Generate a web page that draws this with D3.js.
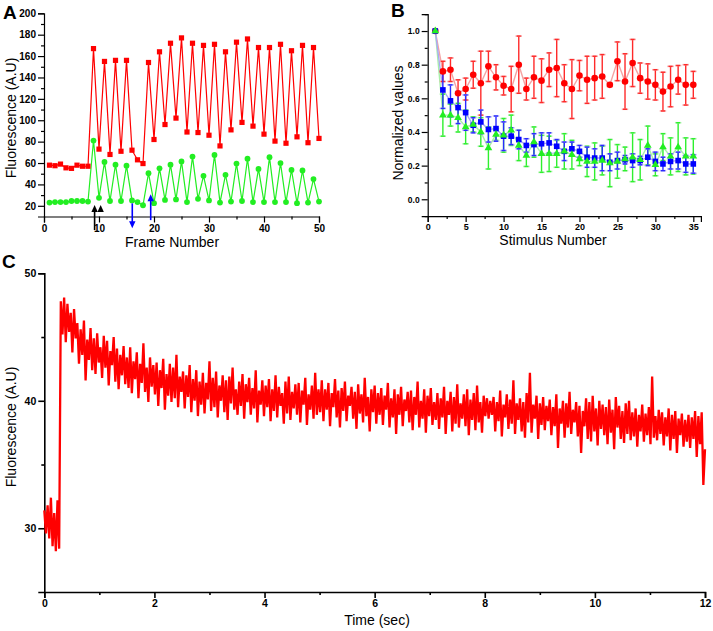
<!DOCTYPE html>
<html>
<head>
<meta charset="utf-8">
<script src="https://cdn.jsdelivr.net/npm/d3@7"></script>
<style>
  body { margin: 0; background: #fff; }
  text { font-family: Arial, "Liberation Sans", sans-serif; }
  .tk text { font-weight: bold; fill: #000; }
</style>
</head>
<body>
<div id="cContainer"></div>
<script>
// ---- panel A : raw fluorescence per frame ----
var framesA = d3.range(1, 51);
var redA = [58, 57.5, 59, 55.5, 55, 58, 57, 57, 167, 73,
            155, 68, 156, 71, 156, 72, 63, 59.5, 154, 82,
            164, 96, 172, 102, 177, 89, 172, 88.5, 170, 86,
            171, 76, 164, 91, 173, 98, 176, 94.5, 168, 87,
            168, 80.5, 171, 78.5, 165, 84.5, 170, 79, 168, 83];
var greenA = [23, 23.5, 23.5, 23.5, 24.5, 24.5, 24.5, 24, 81, 27.5,
              61, 24.5, 58.5, 24.5, 57.5, 25, 23.5, 20.5, 50.5, 22.5,
              55, 25.5, 58.5, 26, 61.5, 23.5, 66, 26.5, 48, 25,
              67.5, 23, 49, 24, 59.5, 24.5, 64, 23.5, 54.5, 23.5,
              65.5, 23.5, 60, 23.5, 53.5, 22.5, 53, 23, 45, 24];
// arrows (frame, start value, tip value), from = null -> head only
var arrowFrames = [9.2, 10.3, 16.05, 19.4];
var arrowFrom = [-2.7, null, 22.3, 6.6];
var arrowTo = [20.7, 20.7, -1.1, 30.7];
var arrowColors = ["#000", "#000", "#0000ff", "#0000ff"];

// ---- panel B : normalized values per stimulus ----
var stimB = d3.range(1, 36);
var redB = [1.0, 0.76, 0.77, 0.63, 0.655, 0.74, 0.69, 0.79, 0.725, 0.675,
            0.655, 0.80, 0.655, 0.725, 0.705, 0.77, 0.78, 0.69, 0.655, 0.735,
            0.71, 0.72, 0.73, 0.68, 0.82, 0.70, 0.81, 0.72, 0.70, 0.68,
            0.64, 0.67, 0.71, 0.68, 0.68];
var redErrB = [0, 0.06, 0.07, 0.08, 0.065, 0.08, 0.19, 0.09, 0.075, 0.055,
               0.135, 0.17, 0.065, 0.125, 0.13, 0.10, 0.17, 0.11, 0.175, 0.09,
               0.14, 0.13, 0.13, 0.01, 0.115, 0.165, 0.14, 0.09, 0.105, 0.09,
               0.115, 0.12, 0.085, 0.12, 0.08];
var blueB = [1.0, 0.65, 0.585, 0.545, 0.515, 0.44, 0.46, 0.415, 0.42, 0.375,
             0.375, 0.355, 0.32, 0.325, 0.33, 0.335, 0.315, 0.285, 0.30, 0.285,
             0.25, 0.245, 0.245, 0.22, 0.23, 0.235, 0.23, 0.23, 0.25, 0.225,
             0.21, 0.225, 0.23, 0.21, 0.21];
var blueErrB = [0, 0.11, 0.095, 0.095, 0.105, 0.045, 0.07, 0.075, 0.075, 0.085,
                0.05, 0.055, 0.04, 0.065, 0.065, 0.06, 0.04, 0.055, 0.04, 0.035,
                0.06, 0.055, 0.075, 0.05, 0.05, 0.025, 0.04, 0.025, 0.05, 0.055,
                0.04, 0.045, 0.05, 0.05, 0.055];
var greenB = [1.0, 0.50, 0.50, 0.485, 0.43, 0.445, 0.40, 0.305, 0.385, 0.38,
              0.41, 0.32, 0.26, 0.34, 0.27, 0.27, 0.27, 0.285, 0.265, 0.24,
              0.225, 0.225, 0.23, 0.215, 0.225, 0.24, 0.25, 0.235, 0.32, 0.205,
              0.31, 0.255, 0.31, 0.255, 0.255];
var greenErrB = [0, 0.125, 0.065, 0.085, 0.10, 0.045, 0.085, 0.125, 0.035, 0.10,
                 0.09, 0.09, 0.065, 0.09, 0.11, 0.105, 0.08, 0.105, 0.085, 0.04,
                 0.09, 0.11, 0.085, 0.14, 0.10, 0.07, 0.145, 0.12, 0.115, 0.065,
                 0.08, 0.11, 0.145, 0.11, 0.105];

// ---- panel C : fluorescence trace, one sample every 0.03 s ----
var dtC = 0.03;
var traceC = [
 31.4, 29.6, 31.8, 29.2, 32.4, 28.6, 31.2, 28.2, 32.2, 28.4,
 47.8,
 45.2, 48.1, 44.6, 47.6, 45.4, 46.9, 43.8, 47.2, 44.9,
 46.1, 42.9, 45.6, 43.6, 46.3, 41.6, 44.8, 43.2, 45.7, 42.4, 44.9, 42.1, 45.3, 43.0,
 44.2, 41.8, 45.1, 42.6, 44.7, 41.2, 43.9, 42.8, 45.0, 41.5, 44.1, 40.9, 43.6, 42.0, 44.3, 41.3, 43.4,
 41.0, 44.2, 40.6, 43.1, 41.7, 43.8, 40.2, 42.9, 41.4, 44.5, 40.7, 42.6, 39.9, 43.4, 41.1, 42.8, 40.5,
 43.0, 39.6, 42.4, 41.0, 43.3, 39.3, 42.1, 40.4, 42.9, 39.9, 42.6, 40.2, 43.6, 39.5, 41.9, 40.7, 42.3,
 39.4, 42.0, 40.3, 42.8, 39.1, 41.7, 40.0, 42.4, 38.8, 41.5, 39.7, 42.2, 39.0, 41.4, 40.1, 43.1, 39.2,
 41.8, 39.5, 42.3, 38.7, 41.2, 40.0, 42.0, 39.1, 41.6, 38.5, 41.9, 39.8, 42.6, 39.3, 40.9, 38.9, 41.5,
 39.6, 42.1, 38.6, 41.3, 39.9, 41.8, 38.9, 41.0, 39.4, 42.4, 38.3, 40.8, 39.7, 41.6, 38.8, 41.2, 39.5,
 41.7, 38.4, 40.9, 39.2, 42.0, 38.7, 41.1, 39.6, 40.6, 38.2, 41.5, 39.0, 41.9, 38.5, 40.7, 39.4, 41.3,
 38.9, 41.4, 38.3, 40.8, 39.7, 41.8, 38.1, 40.5, 39.3, 41.2, 38.6, 42.2, 38.9, 40.9, 39.1, 41.6, 38.4,
 40.9, 39.3, 41.4, 38.0, 40.6, 39.5, 41.7, 38.7, 40.8, 37.9, 41.0, 39.2, 41.5, 38.4, 40.4, 39.6, 41.1,
 38.6, 40.7, 37.8, 41.3, 39.0, 40.5, 38.3, 41.8, 38.8, 40.3, 37.6, 40.9, 39.1, 41.2, 38.2, 40.6, 38.9,
 41.0, 38.1, 40.4, 39.3, 41.4, 37.9, 40.2, 38.7, 40.9, 37.4, 40.5, 38.9, 41.1, 38.0, 40.1, 39.2, 40.7,
 38.3, 40.8, 37.7, 40.3, 38.9, 41.5, 37.9, 40.0, 38.6, 40.9, 37.5, 40.4, 38.8, 41.0, 38.1, 39.9, 38.5,
 40.6, 37.8, 40.2, 38.7, 41.1, 37.4, 40.0, 38.9, 40.7, 37.6, 40.3, 38.2, 41.3, 37.9, 39.8, 38.6, 40.5,
 38.0, 40.9, 37.3, 40.1, 38.5, 40.6, 37.7, 41.2, 38.3, 39.9, 37.5, 40.4, 38.8, 40.2, 38.6, 40.0, 38.9,
 40.3, 37.6, 39.9, 38.4, 40.8, 37.2, 39.7, 38.7, 40.5, 37.8, 40.1, 38.2, 41.6, 37.4, 39.8, 38.5, 40.2,
 37.6, 39.9, 37.1, 40.6, 38.3, 42.2, 37.5, 39.7, 38.6, 40.4, 37.0, 39.8, 38.1, 40.3, 37.7, 39.6, 38.4,
 40.1, 37.3, 39.5, 38.0, 40.5, 36.3, 39.4, 38.2, 40.0, 37.1, 39.8, 37.9, 40.7, 37.4, 39.3, 38.3, 39.9,
 37.2, 39.6, 35.9, 39.2, 38.0, 40.2, 37.0, 39.9, 36.8, 40.4, 37.6, 39.4, 36.5, 40.0, 37.8, 39.7, 37.3,
 39.5, 36.6, 40.1, 37.5, 39.3, 36.2, 40.3, 37.9, 39.6, 37.0, 39.2, 36.7, 39.8, 37.4, 40.0, 36.9, 39.1,
 37.2, 39.4, 36.4, 38.9, 37.6, 39.7, 36.8, 39.0, 37.3, 39.5, 36.6, 41.9, 37.1, 38.8, 36.9, 39.3, 37.4,
 39.1, 36.5, 38.7, 37.2, 39.4, 36.1, 38.9, 37.0, 39.2, 35.9, 38.6, 37.3, 39.0, 36.4, 38.5, 36.8, 38.9,
 36.3, 38.7, 37.0, 39.2, 35.6, 38.8, 36.6, 39.1, 33.4,
 36.2
];

var RED = "#ff0000", GREEN = "#22ee22", BLUE = "#0000ff";

var svg = d3.select("#cContainer").append("svg")
    .attr("width", 713)
    .attr("height", 631);
svg.append("rect").attr("width", 713).attr("height", 631).attr("fill", "#fff");

// axis helper: major + minor ticks, outward
function drawAxis(g, axisFn, scale, majors, minors, fmt, fontSize, width) {
    var minor = g.append("g").attr("class", "tk")
        .call(axisFn(scale).tickValues(minors).tickSize(3).tickFormat(""));
    minor.select(".domain").remove();
    var major = g.append("g").attr("class", "tk")
        .call(axisFn(scale).tickValues(majors).tickSize(6).tickPadding(2).tickFormat(fmt));
    major.selectAll("text").style("font-size", fontSize + "px");
    g.selectAll("line").attr("stroke", "#000").attr("stroke-width", width);
    g.selectAll(".domain").attr("stroke", "#000").attr("stroke-width", width);
}

// ================= A =================
var xA = d3.scaleLinear().domain([0, 50]).range([44, 319]);
var yA = d3.scaleLinear().domain([10, 200]).range([216.5, 13.3]);

drawAxis(svg.append("g").attr("transform", "translate(0," + yA(10) + ")"),
    d3.axisBottom, xA, d3.range(0, 51, 10), d3.range(5, 50, 10), d3.format("d"), 10, 1.2);
drawAxis(svg.append("g").attr("transform", "translate(" + xA(0) + ",0)"),
    d3.axisLeft, yA, d3.range(20, 201, 20), d3.range(30, 200, 20), d3.format("d"), 10, 1.2);

var lineA = d3.line().x(function(d, i) { return xA(framesA[i]); }).y(function(d) { return yA(d); });

svg.append("path").datum(redA).attr("d", lineA)
    .attr("fill", "none").attr("stroke", RED).attr("stroke-width", 1.2);
svg.append("path").datum(greenA).attr("d", lineA)
    .attr("fill", "none").attr("stroke", GREEN).attr("stroke-width", 1.2);

svg.selectAll("rect.ra").data(redA).enter().append("rect")
    .attr("class", "ra")
    .attr("x", function(d, i) { return xA(framesA[i]) - 2.6; })
    .attr("y", function(d) { return yA(d) - 2.6; })
    .attr("width", 5.2).attr("height", 5.2)
    .attr("fill", RED);
svg.selectAll("circle.ga").data(greenA).enter().append("circle")
    .attr("class", "ga")
    .attr("cx", function(d, i) { return xA(framesA[i]); })
    .attr("cy", function(d) { return yA(d); })
    .attr("r", 2.9)
    .attr("fill", GREEN);

arrowFrames.forEach(function(f, i) {
    var x = xA(f), tip = yA(arrowTo[i]);
    var dir = arrowTo[i] > (arrowFrom[i] === null ? -1e9 : arrowFrom[i]) ? 1 : -1; // 1 = points up
    if (arrowFrom[i] !== null) {
        svg.append("line")
            .attr("x1", x).attr("x2", x)
            .attr("y1", yA(arrowFrom[i])).attr("y2", tip + dir * 4)
            .attr("stroke", arrowColors[i]).attr("stroke-width", 1.6);
    }
    var b = tip + dir * 7;
    svg.append("path")
        .attr("d", "M" + x + "," + tip + "L" + (x - 3.2) + "," + b + "L" + (x + 3.2) + "," + b + "Z")
        .attr("fill", arrowColors[i]);
});

svg.append("text").attr("x", 3).attr("y", 19)
    .style("font-size", "19px").style("font-weight", "bold").text("A");
svg.append("text").attr("transform", "translate(16,118) rotate(-90)")
    .attr("text-anchor", "middle").style("font-size", "14px").text("Fluorescence (A.U)");
svg.append("text").attr("x", 172).attr("y", 247)
    .attr("text-anchor", "middle").style("font-size", "14px").text("Frame Number");

// ================= B =================
var xB = d3.scaleLinear().domain([0, 36]).range([427.7, 700.9]);
var yB = d3.scaleLinear().domain([-0.1, 1.1]).range([216.1, 14.2]);

drawAxis(svg.append("g").attr("transform", "translate(0," + yB(-0.1) + ")"),
    d3.axisBottom, xB, d3.range(0, 36, 5), d3.range(2.5, 36, 5), d3.format("d"), 9, 1.2);
drawAxis(svg.append("g").attr("transform", "translate(" + xB(0) + ",0)"),
    d3.axisLeft, yB, [0, 0.2, 0.4, 0.6, 0.8, 1.0], [-0.1, 0.1, 0.3, 0.5, 0.7, 0.9, 1.1], d3.format(".1f"), 8.5, 1.2);

var seriesB = [
    {m: redB, e: redErrB, color: RED, light: "#f5a3a3", bar: "#ff2a2a"},
    {m: greenB, e: greenErrB, color: GREEN, light: "#a8f0a8", bar: "#2ef02e"},
    {m: blueB, e: blueErrB, color: BLUE, light: "#a8a8f5", bar: "#2a2aff"}
];

seriesB.forEach(function(s) {
    var line = d3.line().x(function(d, i) { return xB(stimB[i]); }).y(function(d) { return yB(d); });
    svg.append("path").datum(s.m).attr("d", line)
        .attr("fill", "none").attr("stroke", s.light).attr("stroke-width", 1.4);
});

seriesB.forEach(function(s) {
    var g = svg.append("g");
    s.m.forEach(function(v, i) {
        if (s.e[i] <= 0) return;
        var x = xB(stimB[i]), y1 = yB(v + s.e[i]), y2 = yB(v - s.e[i]);
        g.append("line").attr("x1", x).attr("x2", x).attr("y1", y1).attr("y2", y2)
            .attr("stroke", s.bar).attr("stroke-width", 1.4);
        [y1, y2].forEach(function(y) {
            g.append("line").attr("x1", x - 3.2).attr("x2", x + 3.2).attr("y1", y).attr("y2", y)
                .attr("stroke", s.light).attr("stroke-width", 1.6);
            g.append("line").attr("x1", x - 2).attr("x2", x + 2).attr("y1", y).attr("y2", y)
                .attr("stroke", s.bar).attr("stroke-width", 1.4);
        });
    });
});

svg.selectAll("circle.rb").data(redB).enter().append("circle")
    .attr("class", "rb")
    .attr("cx", function(d, i) { return xB(stimB[i]); })
    .attr("cy", function(d) { return yB(d); })
    .attr("r", 3.3).attr("fill", RED);
svg.selectAll("rect.bb").data(blueB).enter().append("rect")
    .attr("class", "bb")
    .attr("x", function(d, i) { return xB(stimB[i]) - 2.8; })
    .attr("y", function(d) { return yB(d) - 2.8; })
    .attr("width", 5.6).attr("height", 5.6).attr("fill", BLUE);
var tri = d3.symbol().type(d3.symbolTriangle).size(26);
svg.selectAll("path.gb").data(greenB).enter().append("path")
    .attr("class", "gb")
    .attr("transform", function(d, i) { return "translate(" + xB(stimB[i]) + "," + yB(d) + ")"; })
    .attr("d", tri).attr("fill", GREEN);

svg.append("text").attr("x", 391).attr("y", 17)
    .style("font-size", "19px").style("font-weight", "bold").text("B");
svg.append("text").attr("transform", "translate(403,123) rotate(-90)")
    .attr("text-anchor", "middle").style("font-size", "14px").text("Normalized values");
svg.append("text").attr("x", 553).attr("y", 245)
    .attr("text-anchor", "middle").style("font-size", "14px").text("Stimulus Number");

// ================= C =================
var xC = d3.scaleLinear().domain([0, 12]).range([44.3, 705]);
var yC = d3.scaleLinear().domain([25, 50]).range([592, 273.3]);

drawAxis(svg.append("g").attr("transform", "translate(0," + yC(25) + ")"),
    d3.axisBottom, xC, d3.range(0, 13, 2), d3.range(1, 12, 2), d3.format("d"), 10.5, 1.6);
drawAxis(svg.append("g").attr("transform", "translate(" + xC(0) + ",0)"),
    d3.axisLeft, yC, [30, 40, 50], [35, 45], d3.format("d"), 10.5, 1.6);

var lineC = d3.line().x(function(d, i) { return xC(i * dtC); }).y(function(d) { return yC(d); });
svg.append("path").datum(traceC).attr("d", lineC)
    .attr("fill", "none").attr("stroke", RED).attr("stroke-width", 2.3)
    .attr("stroke-linejoin", "bevel");

svg.append("text").attr("x", 2).attr("y", 268)
    .style("font-size", "19px").style("font-weight", "bold").text("C");
svg.append("text").attr("transform", "translate(16,427) rotate(-90)")
    .attr("text-anchor", "middle").style("font-size", "14px").text("Fluorescence (A.U)");
svg.append("text").attr("x", 377).attr("y", 625)
    .attr("text-anchor", "middle").style("font-size", "14px").text("Time (sec)");
</script>
</body>
</html>
